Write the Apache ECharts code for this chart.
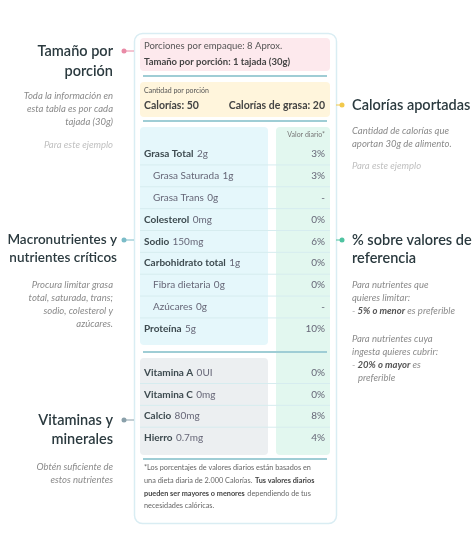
<!DOCTYPE html>
<html><head><meta charset="utf-8">
<script src="https://cdn.jsdelivr.net/npm/echarts@6/dist/echarts.min.js"></script>
<style>html,body{margin:0;background:#fff}#c{width:474px;height:549px}</style>
</head><body><div id="c"></div>
<script>
// rows of the label (blank slot = separator between groups)
const nutrients = ['Grasa Total', 'Grasa Saturada', 'Grasa Trans', 'Colesterol', 'Sodio', 'Carbohidrato total', 'Fibra dietaria', 'Azúcares', 'Proteína', '', 'Vitamina A', 'Vitamina C', 'Calcio', 'Hierro'];
const amounts = ['2g', '1g', '0g', '0mg', '150mg', '1g', '0g', '0g', '5g', '', '0UI', '0mg', '80mg', '0.7mg'];
const dailyValue = ['3%', '3%', '-', '0%', '6%', '0%', '0%', '-', '10%', '', '0%', '0%', '8%', '4%'];
const isSub = [false, true, true, false, false, false, true, true, false, false, false, false, false, false];

const F = 'Lato, "Open Sans", sans-serif';
const chart = echarts.init(document.getElementById('c'));

function txt(x, y, s, o) {
  return { type: 'text', x: x, y: y, style: Object.assign({ text: s, font: '10px ' + F, fill: '#555', textVerticalAlign: 'middle' }, o || {}) };
}
function rect(x, y, w, h, fill, r) {
  return { type: 'rect', shape: { x: x, y: y, width: w, height: h, r: r || 4 }, style: { fill: fill } };
}
function line(x1, y1, x2, y2, c, w) {
  return { type: 'line', shape: { x1: x1, y1: y1, x2: x2, y2: y2 }, style: { stroke: c, lineWidth: w || 1 } };
}
function dot(x, y, c, lx1, lx2) {
  return [line(lx1, y, lx2, y, c, 1), { type: 'circle', shape: { cx: x, cy: y, r: 2.5 }, style: { fill: c } }];
}
const head = (x, y, s, align, size) => txt(x, y, s, { font: '600 ' + (size || 14.5) + 'px ' + F, fill: '#2b3a3f', align: align });
const note = (x, y, s, align, c) => txt(x, y, s, { font: 'italic 9.5px ' + F, fill: c || '#8a8a8a', align: align });

const g = [
  { type: 'rect', shape: { x: 134.5, y: 33.5, width: 202, height: 490, r: 8 }, style: { fill: '#fff', stroke: '#d9edf3', lineWidth: 1.5 } },
  rect(140, 38, 190, 33, '#fde9ed'),
  txt(144, 46, 'Porciones por empaque: 8 Aprox.', { font: '9.5px ' + F }),
  txt(144, 62, 'Tamaño por porción: 1 tajada (30g)', { font: 'bold 9.5px ' + F, fill: '#444' }),
  line(143, 76, 327, 76, '#9fcdd5', 2),
  rect(140, 82, 190, 35, '#fff5dc'),
  txt(144, 91, 'Cantidad por porción', { font: '7px ' + F }),
  txt(144, 106, 'Calorías: 50', { font: 'bold 10.5px ' + F, fill: '#444' }),
  txt(325, 106, 'Calorías de grasa: 20', { font: 'bold 10.5px ' + F, fill: '#444', align: 'right' }),
  line(143, 121, 327, 121, '#9fcdd5', 2),
  rect(140, 127, 128, 218, '#e5f7fb'),
  rect(276, 127, 54, 328, '#e2f7ef'),
  rect(140, 358, 128, 97, '#eceff1'),
  txt(325, 135, 'Valor diario*', { font: '7px ' + F, fill: '#777', align: 'right' }),
  line(143, 352, 327, 352, '#9fcdd5', 2),
  line(143, 459, 327, 459, '#9fcdd5', 2),
  txt(144, 468, '*Los porcentajes de valores diarios están basados en', { font: '7.3px ' + F, fill: '#666' }),
  txt(144, 481, '', { text: '{a|una dieta diaria de 2.000 Calorías.} {b|Tus valores diarios}',
    rich: { a: { font: '7.3px ' + F, fill: '#666' }, b: { font: 'bold 7.3px ' + F, fill: '#444' } } }),
  txt(144, 494, '', { text: '{b|pueden ser mayores o menores} {a|dependiendo de tus}',
    rich: { a: { font: '7.3px ' + F, fill: '#666' }, b: { font: 'bold 7.3px ' + F, fill: '#444' } } }),
  txt(144, 506, 'necesidades calóricas.', { font: '7.3px ' + F, fill: '#666' }),
  // left notes
  head(113, 51, 'Tamaño por', 'right'), head(113, 71, 'porción', 'right'),
  note(113, 96, 'Toda la información en', 'right'), note(113, 109, 'esta tabla es por cada', 'right'),
  note(113, 122, 'tajada (30g)', 'right'), note(113, 145, 'Para este ejemplo', 'right', '#c0c0c0'),
  head(117, 240, 'Macronutrientes y', 'right', 13.5), head(117, 258, 'nutrientes críticos', 'right', 13.5),
  note(113, 285, 'Procura limitar grasa', 'right'), note(113, 298, 'total, saturada, trans;', 'right'),
  note(113, 311, 'sodio, colesterol y', 'right'), note(113, 324, 'azúcares.', 'right'),
  head(113, 420, 'Vitaminas y', 'right'), head(113, 439, 'minerales', 'right'),
  note(113, 467, 'Obtén suficiente de', 'right'), note(113, 480, 'estos nutrientes', 'right'),
  // right notes
  head(352, 105, 'Calorías aportadas', 'left'),
  note(352, 131, 'Cantidad de calorías que', 'left'), note(352, 144, 'aportan 30g de alimento.', 'left'),
  note(352, 166, 'Para este ejemplo', 'left', '#c0c0c0'),
  head(352, 240, '% sobre valores de', 'left'), head(352, 258, 'referencia', 'left'),
  note(352, 285, 'Para nutrientes que', 'left'), note(352, 298, 'quieres limitar:', 'left'),
  txt(352, 311, '', { text: '{n|- }{b|5% o menor}{n| es preferible}',
    rich: { n: { font: 'italic 9.5px ' + F, fill: '#8a8a8a' }, b: { font: 'italic bold 9.5px ' + F, fill: '#555' } } }),
  note(352, 339, 'Para nutrientes cuya', 'left'), note(352, 352, 'ingesta quieres cubrir:', 'left'),
  txt(352, 365, '', { text: '{n|- }{b|20% o mayor}{n| es}',
    rich: { n: { font: 'italic 9.5px ' + F, fill: '#8a8a8a' }, b: { font: 'italic bold 9.5px ' + F, fill: '#555' } } }),
  note(358, 378, 'preferible', 'left')
].concat(dot(124, 51, '#e98aa6', 124, 134), dot(342, 105, '#f2c94c', 336, 342),
  dot(124, 240, '#7bbcc8', 124, 134), dot(342, 240, '#4fc3a1', 336, 342), dot(124, 420, '#8aa0aa', 124, 134));

const data = nutrients.map((n, i) => [i, n, amounts[i], dailyValue[i], isSub[i] ? 1 : 0]);

chart.setOption({
  animation: false,
  graphic: g,
  grid: { left: 0, width: 474, top: 143, height: 306 },
  xAxis: { type: 'value', min: 0, max: 474, show: false },
  yAxis: { type: 'category', data: nutrients, inverse: true, show: false },
  series: [{
    type: 'custom', z: 10,
    data: data,
    encode: { y: 0 },
    renderItem: function (params, api) {
      const i = api.value(0);
      if (!nutrients[i]) return null;
      const p = api.coord([144, i]);
      const r = api.coord([325, i]);
      const sub = isSub[i];
      const kids = [
        { type: 'text', x: p[0] + (sub ? 9 : 0), y: p[1], style: {
          text: '{a|' + nutrients[i] + '} {b|' + amounts[i] + '}', textVerticalAlign: 'middle',
          rich: { a: { font: (sub ? '' : 'bold ') + '10px ' + F, fill: sub ? '#667' : '#3d4a4f' }, b: { font: '10px ' + F, fill: '#667' } } } },
        { type: 'text', x: r[0], y: r[1], style: { text: dailyValue[i], align: 'right', textVerticalAlign: 'middle', font: '10px ' + F, fill: '#667' } }
      ];
      const last = i === 8 || i === nutrients.length - 1;
      if (!last) kids.push({ type: 'line', shape: { x1: 140, y1: p[1] + 11, x2: 330, y2: p[1] + 11 }, style: { stroke: '#d6ecef', lineWidth: 1 } });
      return { type: 'group', children: kids };
    }
  }]
});
</script></body></html>
